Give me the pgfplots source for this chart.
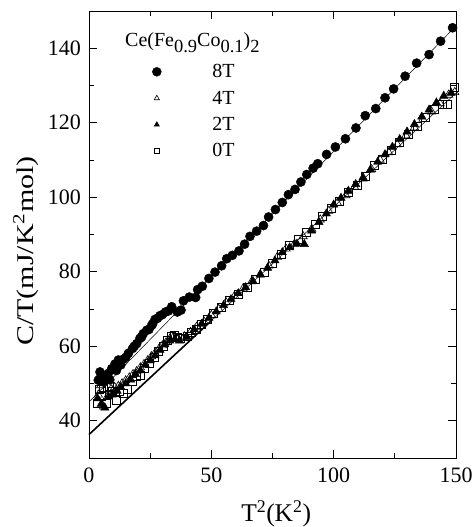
\documentclass[border=0pt]{standalone}
\usepackage{graphicx}
\usepackage{pgfplots}
\pgfplotsset{compat=1.18}
\usepackage{fontspec}
\setmainfont{Liberation Serif}
\newcommand{\sub}[1]{\raisebox{-0.28em}{\fontsize{18.5}{18.5}\selectfont #1}}
\newcommand{\tl}[1]{{\fontsize{22}{22}\selectfont\rmfamily #1}}
\begin{document}
\begin{tikzpicture}
\useasboundingbox (-89pt,-69pt) rectangle (385pt,458pt);
\begin{axis}[
 at={(0,0)}, anchor=south west,
 scale only axis, width=367pt, height=447pt,
 xmin=0, xmax=150, ymin=30, ymax=150,
 xtick={0,50,100,150}, ytick={40,60,80,100,120,140},
 xticklabels={\tl{0},\tl{50},\tl{100},\tl{150}},
 yticklabels={\tl{40},\tl{60},\tl{80},\tl{100},\tl{120},\tl{140}},
 minor x tick num=1, minor y tick num=1,
 tick align=inside,
 major tick length=8pt, minor tick length=5pt,
 axis line style={line width=0.9pt},
 every tick/.style={line width=0.8pt, black},
 xticklabel style={inner sep=0pt, anchor=north, yshift=-10pt, font=\fontsize{22}{22}\selectfont},
 yticklabel style={inner sep=0pt, anchor=east, xshift=-8pt, font=\fontsize{22}{22}\selectfont},
 xlabel={T\textsuperscript{2}(K\textsuperscript{2})},
 ylabel={\scalebox{1.25}[1]{C/T(mJ/K\textsuperscript{2}mol)}},
 xlabel style={font=\fontsize{25.5}{25.5}\selectfont, at={(axis description cs:0.51,-0.141)}, anchor=base, inner sep=0pt},
 ylabel style={font=\fontsize{24}{24}\selectfont, at={(axis description cs:-0.1717,0.463)}, anchor=center, inner sep=0pt},
 clip=false,
 legend style={at={(axis description cs:0.172,0.881)}, anchor=north west, draw=none, fill=none, inner sep=0pt,
   row sep=11.7pt, column sep=51pt, font=\fontsize{20}{20}\selectfont, nodes={inner sep=0pt}},
 legend cell align=left,
]
\addlegendimage{only marks, mark=*, mark size=4.5pt, black}
\addlegendentry{8T}
\addlegendimage{only marks, mark=triangle, mark size=3pt, black, line width=0.6pt}
\addlegendentry{4T}
\addlegendimage{only marks, mark=triangle*, mark size=3pt, black}
\addlegendentry{2T}
\addlegendimage{only marks, mark=square, mark size=2.5pt, black, line width=0.6pt}
\addlegendentry{0T}

% fit lines
\addplot[black, line width=0.5pt, forget plot] coordinates {(0,45) (150,146)};
\addplot[black, line width=0.5pt, forget plot] coordinates {(0,36.3) (150,128)};
\addplot[black, line width=1.6pt, forget plot] coordinates {(0,36.3) (50,66.85)};

% 2T
\addplot[only marks, mark=triangle*, mark size=4.8pt, black, forget plot] coordinates {
(3.5,46.0)(5.0,44.5)(6.5,43.5)(8.0,46.5)(9.5,47.0)(11.5,48.0)(13.0,49.0)(15.0,50.0)(17.0,51.0)(19.0,52.5)
(21.0,53.5)(23.0,55.0)(25.0,56.2)(27.0,57.5)(29.0,59.0)(31.0,60.5)(33.0,61.5)(35.0,61.8)(37.0,61.5)(40.0,62.5)
(43.0,64.5)(46.0,66.0)(49.0,67.6)(52,69.3)(55,71.0)(58,72.6)(61,74.2)(64,75.8)(67,77.5)(70,79.2)
(73,81.0)(76,83.0)(79,85.2)(82,86.5)(85,87.5)(88,87.4)(91,91.0)(94,93.3)(97,95.6)(100,98.0)
(103,99.8)(106,101.7)(109,103.5)(112,105.3)(115,107.4)(118,109.5)(121,111.5)(124,113.5)(127,115.6)(130,117.6)
(133,119.6)(136,121.6)(139,123.5)(142,125.4)(145,127.2)(148,128.0)};

% 4T
\addplot[only marks, mark=triangle, mark size=4.8pt, black, line width=0.6pt, forget plot] coordinates {
(3.8,47.0)(4.8,49.5)(6.0,43.8)(7.5,46.5)(9.0,48.5)(10.5,49.0)(12.0,49.3)(13.5,50.0)(15.0,50.8)(16.5,51.6)
(18.0,52.5)(19.5,53.3)(21.0,54.3)(22.5,55.2)(24.0,56.2)(25.5,57.3)(27.0,58.2)(28.5,59.2)(30.0,60.2)(31.5,61.0)
(33.0,62.0)(34.5,62.5)(36.5,62.0)(39.0,62.6)(41.5,63.8)(44.0,65.2)(47.0,66.6)(50.0,68.3)(53.0,70.0)(56.0,71.8)
(59.5,73.5)(63,75.5)(66.5,77.4)(70,79.3)(73.5,81.6)(77,84.0)(80.5,86.2)(84,87.5)(87.5,89.5)(91,91.5)
(94.5,94.0)(98,96.3)(101.5,98.5)(105,100.5)(108.5,102.8)(112,105.0)(115.5,107.5)(119,110.0)(122.5,112.0)(126,114.2)
(129.5,116.6)(133,118.7)(136.5,121.0)(140,123.0)(143.5,125.2)(147,127.5)(149.5,128.2)};

% 0T
\addplot[only marks, mark=square, mark size=4pt, black, line width=0.6pt, forget plot] coordinates {
(3.5,44.6)(4.2,48.5)(5.0,46.5)(6.0,49.0)(7.0,44.8)(8.3,49.2)(9.5,47.8)(11.0,45.6)(12.5,48.0)(14.0,47.5)
(15.5,48.5)(17.5,50.5)(19.5,52.0)(21.0,52.3)(22.5,54.0)(24.5,55.3)(26.5,57.0)(28.5,58.6)(30.5,60.0)(32.0,61.5)
(33.5,62.8)(35.0,63.0)(36.0,62.5)(37.5,62.2)(40.0,62.8)(42.0,63.8)(44.0,64.6)(46.0,65.8)(48.5,67.3)(51.0,68.8)
(54.0,70.5)(57.5,72.3)(61.0,74.0)(64.5,75.8)(68.0,78.0)(71.5,79.8)(75.0,82.4)(78.5,84.8)(82.0,87.0)(85.5,88.6)
(89.0,90.6)(92.5,92.8)(95.5,94.8)(99.0,97.0)(102.5,99.0)(106,101.3)(109.5,103.2)(113,105.6)(116.5,108.5)(120,110.3)
(123.5,112.6)(127,114.8)(130.5,117.0)(134,119.1)(137.5,121.4)(141,123.6)(144.5,125.0)(146.5,124.9)(149.5,129.4)};

% 8T
\addplot[only marks, mark=*, mark size=4.6pt, black, forget plot] coordinates {
(3.8,50.9)(4.5,53.1)(5.0,52.0)(5.9,50.4)(6.9,51.3)(7.9,52.7)(8.5,51.0)(9.3,54.0)(10.6,55.2)(11.2,53.5)
(12.0,56.3)(13.0,55.0)(14.0,56.5)(15.0,57.0)(16.1,58.1)(17.8,59.4)(18.5,60.0)(19.5,60.7)(20.8,62.1)(21.5,62.5)
(22.2,63.4)(23.6,64.3)(24.5,64.5)(25.6,65.6)(26.0,66.0)(27.0,67.2)(28.0,67.5)(29.0,68.2)(30.0,68.5)(31.3,69.2)
(32.5,69.5)(33.8,70.6)(36.1,69.2)(37.6,69.7)(38.6,72.2)(41.0,73.2)(43.6,73.1)(44.4,75.2)(46.3,76.1)(49.0,78.2)
(51.5,79.9)(54.2,81.6)(56.3,83.5)(58.6,84.4)(61.3,85.6)(63.6,87.4)(65.8,89.5)(68.5,90.9)(71.3,92.4)(73.4,94.7)
(76.2,96.7)(79.0,98.6)(81.5,100.7)(84.2,102.1)(86.6,104.1)(89.0,106.1)(91.6,107.8)(93.5,109.0)(97.1,111.5)(100.7,113.5)
(104.8,115.7)(109.1,118.6)(112.9,121.9)(117.2,123.8)(121.0,126.7)(124.5,129.1)(129.2,132.5)(133.9,136.0)(139.0,138.3)(143.7,141.9)
(148.6,145.5)};

\node[anchor=base west, font=\fontsize{20}{20}\selectfont, inner sep=0pt] at (axis description cs:0.098,0.920)
 {Ce(Fe\sub{0.9}Co\sub{0.1})\sub{2}};
\end{axis}
\end{tikzpicture}
\end{document}
